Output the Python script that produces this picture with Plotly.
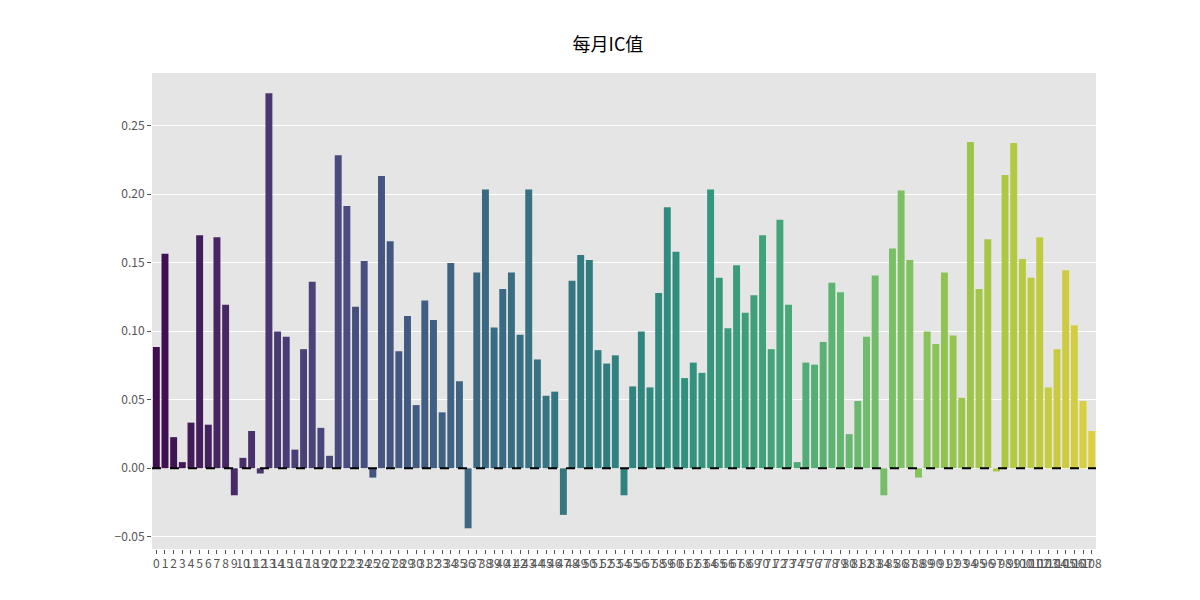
import colorsys
import numpy as np
import plotly.graph_objects as go
from plotly.colors import sample_colorscale, unlabel_rgb

months = list(range(109))
ic_values = [
    0.0885, 0.1565, 0.0227, 0.0045, 0.0333, 0.170, 0.0318, 0.1686, 0.1194, -0.0197,
    0.0076, 0.0272, -0.0038, 0.2737, 0.0998, 0.096, 0.0136, 0.0869, 0.1361, 0.0295,
    0.0091, 0.2283, 0.1913, 0.1179, 0.1512, -0.0068, 0.2132, 0.1656, 0.0854, 0.1111,
    0.0461, 0.1225, 0.1081, 0.0408, 0.1497, 0.0635, -0.0438, 0.1429, 0.2034, 0.1028,
    0.1308, 0.1429, 0.0975, 0.2034, 0.0794, 0.0529, 0.0559, -0.034, 0.1368, 0.1557,
    0.152, 0.0862, 0.0764, 0.0824, -0.0197, 0.0597, 0.0998, 0.059, 0.1278, 0.1905,
    0.158, 0.0658, 0.0771, 0.0696, 0.2034, 0.1391, 0.1021, 0.1482, 0.1134, 0.1263,
    0.170, 0.0869, 0.1814, 0.1194, 0.0045, 0.0771, 0.0756, 0.0922, 0.1353, 0.1285,
    0.0249, 0.0491, 0.096, 0.1406, -0.0197, 0.1603, 0.2026, 0.152, -0.0068, 0.0998,
    0.0907, 0.1429, 0.0968, 0.0514, 0.2381, 0.1308, 0.1671, -0.0023, 0.2140, 0.2374,
    0.1527, 0.1391, 0.1686, 0.059, 0.0869, 0.1444, 0.1043, 0.0491, 0.0272,
]
y_ticks = [-0.05, 0.0, 0.05, 0.10, 0.15, 0.20, 0.25]

# seaborn-style viridis palette, desaturated like barplot does
pts = np.linspace(0, 1, len(months) + 2)[1:-1]
colors = []
for c in sample_colorscale("Viridis", list(pts)):
    r, g, b = [v / 255 for v in unlabel_rgb(c)]
    h, l, s = colorsys.rgb_to_hls(r, g, b)
    r, g, b = colorsys.hls_to_rgb(h, l, s * 0.75)
    colors.append(f"rgb({r*255:.0f},{g*255:.0f},{b*255:.0f})")

fig = go.Figure(go.Bar(x=months, y=ic_values, marker_color=colors, marker_line_width=0))
fig.add_hline(y=0, line_dash="dash", line_color="black", line_width=2)

fig.update_layout(
    width=1200, height=600,
    margin=dict(l=144, r=112, t=65, b=59),
    paper_bgcolor="white", plot_bgcolor="#E5E5E5",
    bargap=0.2, showlegend=False,
    font=dict(family="Noto Sans CJK SC", size=12, color="#555555"),
    title=dict(text="每月IC值", x=0.5, xanchor="center", y=0.95,
               font=dict(size=18, color="black")),
)
fig.update_xaxes(tickmode="array", tickvals=months, ticktext=[str(m) for m in months],
                 tickangle=0, ticks="outside", ticklen=4, tickcolor="#555555",
                 showgrid=False, zeroline=False, range=[-0.5, 108.5])
fig.update_yaxes(tickvals=y_ticks, ticktext=[f"{v:.2f}" if v >= 0 else f"\u2212{abs(v):.2f}" for v in y_ticks],
                 gridcolor="white", gridwidth=1, zeroline=False, range=[-0.0589, 0.2884],
                 ticks="outside", ticklen=4, tickcolor="#555555")

fig.write_html("out.html")
